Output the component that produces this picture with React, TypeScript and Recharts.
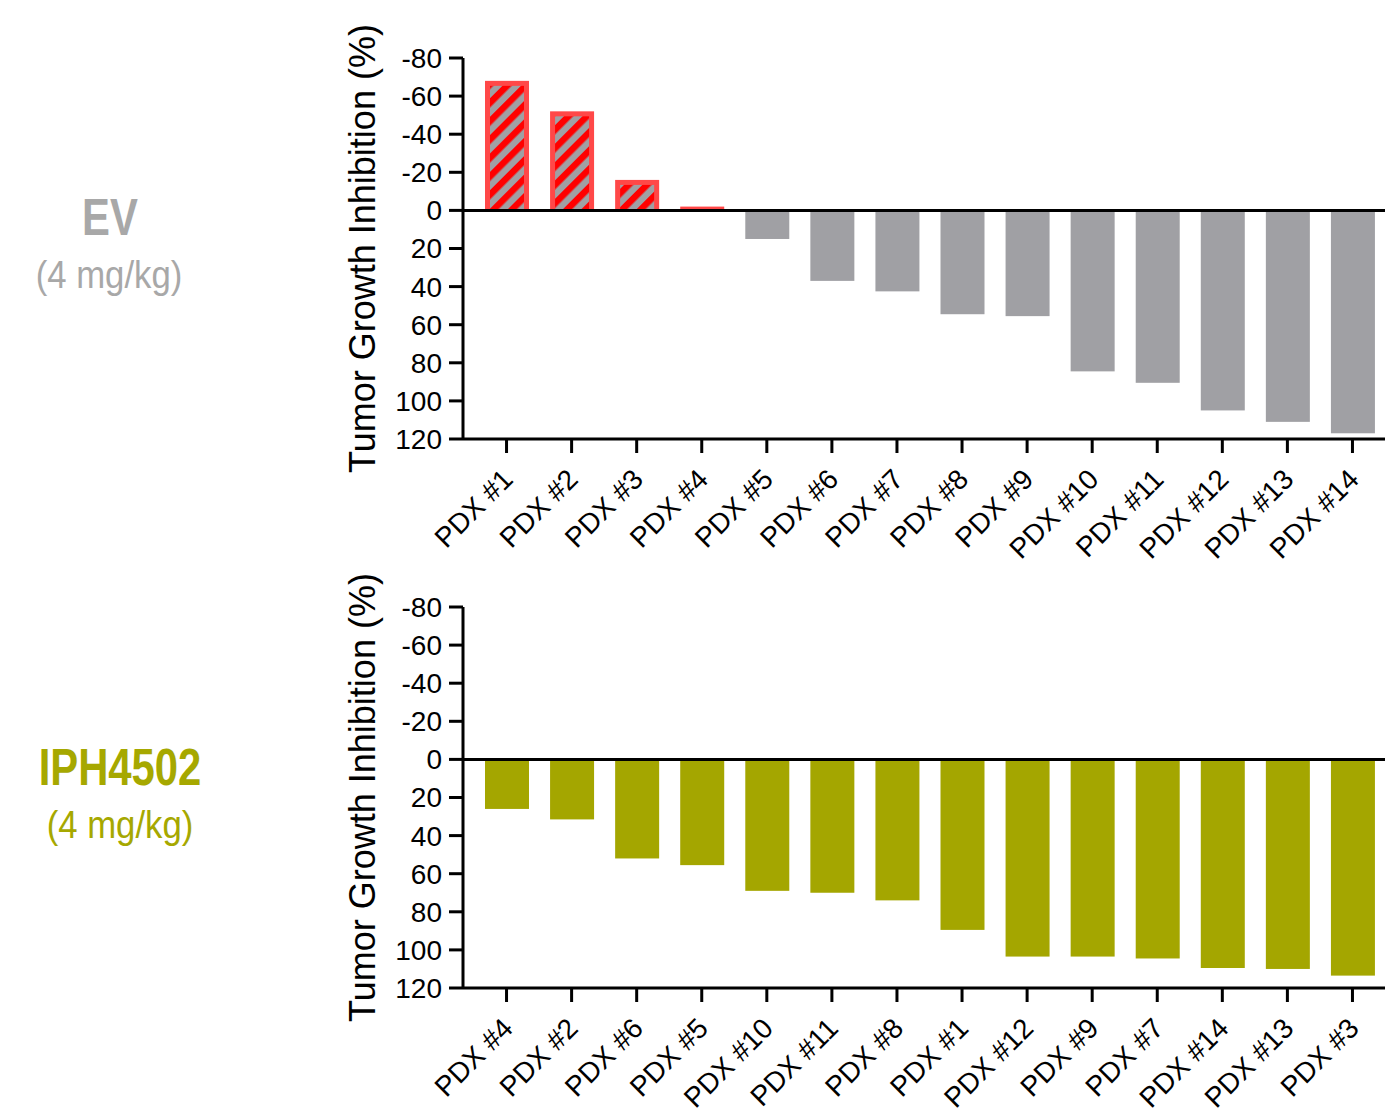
import React from 'react';
import { BarChart, Bar, XAxis, YAxis, ReferenceLine, Label } from 'recharts';

const evCategories = ['PDX #1', 'PDX #2', 'PDX #3', 'PDX #4', 'PDX #5', 'PDX #6', 'PDX #7', 'PDX #8', 'PDX #9', 'PDX #10', 'PDX #11', 'PDX #12', 'PDX #13', 'PDX #14'];
const evValues = [-68, -52, -16, -2, 15, 37, 42.5, 54.5, 55.5, 84.5, 90.5, 105, 111, 117];

const iphCategories = ['PDX #4', 'PDX #2', 'PDX #6', 'PDX #5', 'PDX #10', 'PDX #11', 'PDX #8', 'PDX #1', 'PDX #12', 'PDX #9', 'PDX #7', 'PDX #14', 'PDX #13', 'PDX #3'];
const iphValues = [26, 31.5, 52, 55.5, 69, 70, 74, 89.5, 103.5, 103.5, 104.5, 109.5, 110, 113.5];

const yTicks = [-80, -60, -40, -20, 0, 20, 40, 60, 80, 100, 120];

const FONT = '"Liberation Sans", Arial, Helvetica, sans-serif';
const GRAY = '#a0a0a4';
const OLIVE = '#a4a600';
const RED = '#ff0000';
const RED_EDGE = '#ff4848';

const makeBarShape = (fill: string, prefix: string) => (props: any) => {
  const { x, y, width, height, value, index } = props;
  const top = Math.min(y, y + height);
  const h = Math.abs(height);
  if (value >= 0) {
    return <rect x={x} y={top} width={width} height={h} fill={fill} />;
  }
  // regressing tumours: red outline with a hatched fill
  const b = 5;
  const id = `${prefix}-hatch-${index}`;
  return (
    <g>
      <defs>
        <pattern id={id} patternUnits="userSpaceOnUse" width={13} height={13} patternTransform="rotate(45)">
          <rect x={0} y={0} width={13} height={13} fill={GRAY} />
          <rect x={0} y={0} width={6.5} height={13} fill={RED} />
        </pattern>
      </defs>
      <rect x={x} y={top} width={width} height={Math.max(h, 4)} fill={RED_EDGE} />
      {h > b + 1 && (
        <rect x={x + b} y={top + b} width={width - 2 * b} height={h - b} fill={`url(#${id})`} />
      )}
    </g>
  );
};

const XTick = (props: any) => {
  const { x, y, payload } = props;
  const ax = x + 8;
  const ay = y + 26;
  return (
    <text x={ax} y={ay} transform={`rotate(-45, ${ax}, ${ay})`} textAnchor="end" fontSize={28} fill="#000" fontFamily={FONT}>
      {payload.value}
    </text>
  );
};

const YTitle = (props: any) => {
  const vb = props.viewBox || { y: 58, height: 381 };
  const cy = vb.y + vb.height / 2;
  return (
    <text transform={`translate(375, ${cy}) rotate(-90)`} textAnchor="middle" fontSize={36} fill="#000" fontFamily={FONT}>
      Tumor Growth Inhibition (%)
    </text>
  );
};

interface PanelProps {
  categories: string[];
  values: number[];
  color: string;
  name: string;
  top: number;
}

const Panel: React.FC<PanelProps> = ({ categories, values, color, name, top }) => {
  const data = categories.map((c, i) => ({ name: c, value: values[i] }));
  return (
    <div style={{ position: 'absolute', left: 0, top }}>
      <BarChart width={1385} height={564} data={data} margin={{ top: 58, right: 0, left: 383, bottom: 4 }}>
        <XAxis
          dataKey="name"
          height={121}
          interval={0}
          padding={{ left: 11, right: 0 }}
          axisLine={{ stroke: '#000', strokeWidth: 3 }}
          tickLine={{ stroke: '#000', strokeWidth: 3 }}
          tickSize={14}
          tick={<XTick />}
        />
        <YAxis
          width={80}
          reversed
          domain={[-80, 120]}
          ticks={yTicks}
          interval={0}
          allowDataOverflow
          axisLine={{ stroke: '#000', strokeWidth: 3 }}
          tickLine={{ stroke: '#000', strokeWidth: 3 }}
          tickSize={14}
          tickMargin={7}
          tick={{ fontSize: 28, fill: '#000', fontFamily: FONT }}
        >
          <Label content={<YTitle />} />
        </YAxis>
        <Bar dataKey="value" barSize={44} isAnimationActive={false} shape={makeBarShape(color, name)} />
        <ReferenceLine y={0} stroke="#000" strokeWidth={3} />
      </BarChart>
    </div>
  );
};

export default function App() {
  return (
    <div style={{ position: 'absolute', left: 0, top: 0, width: 1385, height: 1113, background: '#fff', fontFamily: FONT, overflow: 'hidden' }}>
      <svg width={300} height={1113} style={{ position: 'absolute', left: 0, top: 0 }}>
        <text transform="translate(110, 235) scale(0.82, 1)" textAnchor="middle" fontSize={51} fontWeight="bold" fill="#a8a8a8" fontFamily={FONT}>
          EV
        </text>
        <text transform="translate(109, 288) scale(0.89, 1)" textAnchor="middle" fontSize={39} fill="#a8a8a8" fontFamily={FONT}>
          (4 mg/kg)
        </text>
        <text transform="translate(120, 785) scale(0.82, 1)" textAnchor="middle" fontSize={51} fontWeight="bold" fill="#a6a800" fontFamily={FONT}>
          IPH4502
        </text>
        <text transform="translate(120, 838) scale(0.89, 1)" textAnchor="middle" fontSize={39} fill="#a6a800" fontFamily={FONT}>
          (4 mg/kg)
        </text>
      </svg>
      <Panel categories={evCategories} values={evValues} color={GRAY} name="ev" top={0} />
      <Panel categories={iphCategories} values={iphValues} color={OLIVE} name="iph" top={549} />
    </div>
  );
}
